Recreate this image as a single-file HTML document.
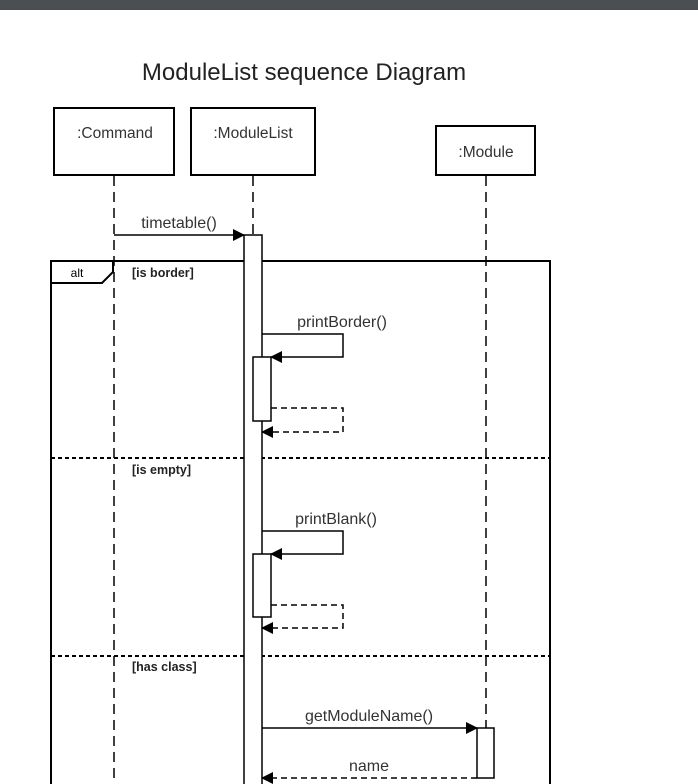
<!DOCTYPE html>
<html><head><meta charset="utf-8"><style>
html,body{margin:0;padding:0;background:#fff;width:698px;height:784px;overflow:hidden}
svg{display:block}
text{font-family:"Liberation Sans",Arial,sans-serif}
</style></head><body>
<svg width="698" height="784" viewBox="0 0 698 784" xmlns="http://www.w3.org/2000/svg">
<defs>
<marker id="a" markerWidth="12" markerHeight="12" refX="11" refY="6" orient="auto" markerUnits="userSpaceOnUse">
<path d="M0,0 L12,6 L0,12 Z" fill="#000"/></marker>
</defs>
<rect x="0" y="0" width="698" height="10" fill="#4a4f54"/>
<text x="304" y="80" font-size="24" text-anchor="middle" fill="#222">ModuleList sequence Diagram</text>
<g fill="#fff" stroke="#000" stroke-width="2">
<rect x="54" y="108" width="120" height="67"/>
<rect x="191" y="108" width="124" height="67"/>
<rect x="436" y="126" width="99" height="49"/>
</g>
<g font-size="15.5" fill="#333" text-anchor="middle">
<text x="115" y="138">:Command</text>
<text x="253" y="138">:ModuleList</text>
<text x="486" y="157">:Module</text>
</g>
<g stroke="#000" stroke-width="1.5" stroke-dasharray="10,6" fill="none">
<line x1="114" y1="176" x2="114" y2="784"/>
<line x1="253" y1="176" x2="253" y2="235"/>
<line x1="486" y1="176" x2="486" y2="784"/>
</g>
<rect x="51" y="261" width="499" height="530" fill="none" stroke="#000" stroke-width="2"/>
<path d="M51,283 L102,283 L113,272 L113,261" fill="none" stroke="#000" stroke-width="2"/>
<text x="77" y="277" font-size="12" fill="#000" text-anchor="middle">alt</text>
<g font-size="12.5" font-weight="bold" fill="#222">
<text x="132" y="277">[is border]</text>
<text x="132" y="474">[is empty]</text>
<text x="132" y="671">[has class]</text>
</g>
<g stroke="#000" stroke-width="2" stroke-dasharray="4,3">
<line x1="51" y1="458" x2="550" y2="458"/>
<line x1="51" y1="656" x2="550" y2="656"/>
</g>
<rect x="244" y="235" width="18" height="560" fill="#fff" stroke="#000" stroke-width="1.5"/>
<line x1="114" y1="235" x2="244" y2="235" stroke="#000" stroke-width="1.5" marker-end="url(#a)"/>
<text x="179" y="228" font-size="16" fill="#333" text-anchor="middle">timetable()</text>
<text x="342" y="327" font-size="16" fill="#333" text-anchor="middle">printBorder()</text>
<path d="M262,334 L343,334 L343,357 L271,357" fill="none" stroke="#000" stroke-width="1.5" marker-end="url(#a)"/>
<rect x="253" y="357" width="18" height="64" fill="#fff" stroke="#000" stroke-width="1.5"/>
<path d="M271,408 L343,408 L343,432 L262,432" fill="none" stroke="#000" stroke-width="1.5" stroke-dasharray="6,4" marker-end="url(#a)"/>
<text x="336" y="524" font-size="16" fill="#333" text-anchor="middle">printBlank()</text>
<path d="M262,531 L343,531 L343,554 L271,554" fill="none" stroke="#000" stroke-width="1.5" marker-end="url(#a)"/>
<rect x="253" y="554" width="18" height="63" fill="#fff" stroke="#000" stroke-width="1.5"/>
<path d="M271,605 L343,605 L343,628 L262,628" fill="none" stroke="#000" stroke-width="1.5" stroke-dasharray="6,4" marker-end="url(#a)"/>
<text x="369" y="721" font-size="16" fill="#333" text-anchor="middle">getModuleName()</text>
<line x1="262" y1="728" x2="477" y2="728" stroke="#000" stroke-width="1.5" marker-end="url(#a)"/>
<rect x="477" y="728" width="17" height="50" fill="#fff" stroke="#000" stroke-width="1.5"/>
<text x="369" y="771" font-size="16" fill="#333" text-anchor="middle">name</text>
<line x1="477" y1="778" x2="262" y2="778" stroke="#000" stroke-width="1.5" stroke-dasharray="6,4" marker-end="url(#a)"/>
</svg>
</body></html>
